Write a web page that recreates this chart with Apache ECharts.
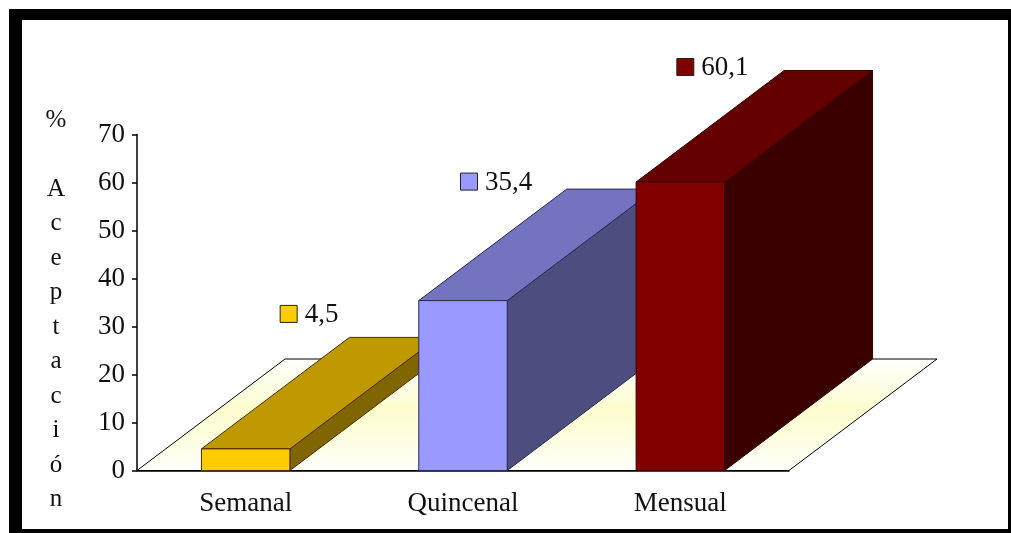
<!DOCTYPE html>
<html>
<head>
<meta charset="utf-8">
<style>html,body{margin:0;padding:0;background:#fff}#chart{width:1011px;height:533px}</style>
<script src="https://cdn.jsdelivr.net/npm/echarts@6/dist/echarts.min.js"></script>
</head>
<body>
<div id="chart"></div>
<script>
// Acceptance percentage by frequency
const categories = ['Semanal', 'Quincenal', 'Mensual'];
const acceptance = [4.5, 35.4, 60.1];
const axisLetters = ['%', '', 'A', 'c', 'e', 'p', 't', 'a', 'c', 'i', 'ó', 'n'];

const faceColors = ['#FFCC00', '#9999FF', '#800000'];
const topColors = ['#BF9900', '#7373BF', '#640000'];
const sideColors = ['#806600', '#4D4D80', '#3A0000'];
const edgeColors = ['#4a2a00', '#2a2a50', '#3a0000'];

const FONT = '"Liberation Serif", "Times New Roman", serif';
const DEPTH_X = 148, DEPTH_Y = 111.5;
const BAR_RATIO = 0.407;
// Value-label placement relative to the top of each bar's front face
const labelShift = [[34, -135], [-3, -119], [-4, -115]];

const floorSeries = {
  type: 'custom',
  coordinateSystem: 'cartesian2d',
  silent: true,
  z: 1,
  data: [[0, 0]],
  renderItem(params, api) {
    const band = api.size([1, 0])[0];
    const first = api.coord([0, 0]);
    const last = api.coord([categories.length - 1, 0]);
    const x0 = first[0] - band / 2, x1 = last[0] + band / 2, y = first[1];
    return {
      type: 'polygon',
      shape: { points: [[x0, y], [x1, y], [x1 + DEPTH_X, y - DEPTH_Y], [x0 + DEPTH_X, y - DEPTH_Y]] },
      style: {
        stroke: '#000',
        lineWidth: 1,
        fill: {
          type: 'linear', x: 0, y: 0, x2: 0, y2: 1,
          colorStops: [
            { offset: 0, color: '#ffffff' },
            { offset: 0.45, color: '#fdfdcf' },
            { offset: 0.72, color: '#fefee0' },
            { offset: 1, color: '#ffffff' }
          ]
        }
      }
    };
  }
};

const barSeries = {
  type: 'custom',
  coordinateSystem: 'cartesian2d',
  silent: true,
  z: 3,
  encode: { x: 0, y: 1 },
  data: acceptance.map((v, i) => [i, v]),
  renderItem(params, api) {
    const i = api.value(0), v = api.value(1);
    const w = api.size([1, 0])[0] * BAR_RATIO;
    const base = api.coord([i, 0]), head = api.coord([i, v]);
    const l = base[0] - w / 2, r = base[0] + w / 2, b = base[1], t = head[1];
    const edge = { stroke: edgeColors[i], lineWidth: 1 };
    const labelX = base[0] + labelShift[i][0], labelY = t + labelShift[i][1];
    return {
      type: 'group',
      children: [
        { type: 'polygon',
          shape: { points: [[r, b], [r + DEPTH_X, b - DEPTH_Y], [r + DEPTH_X, t - DEPTH_Y], [r, t]] },
          style: Object.assign({ fill: sideColors[i] }, edge) },
        { type: 'polygon',
          shape: { points: [[l, t], [r, t], [r + DEPTH_X, t - DEPTH_Y], [l + DEPTH_X, t - DEPTH_Y]] },
          style: Object.assign({ fill: topColors[i] }, edge) },
        { type: 'rect',
          shape: { x: l, y: t, width: w, height: b - t },
          style: Object.assign({ fill: faceColors[i] }, edge) },
        { type: 'rect',
          shape: { x: labelX + 0.5, y: labelY - 8.5, width: 17, height: 17 },
          style: { fill: faceColors[i], stroke: '#222', lineWidth: 1 } },
        { type: 'text',
          style: {
            x: labelX + 25, y: labelY + 1,
            text: String(v).replace('.', ','),
            fill: '#111', font: '27px ' + FONT,
            align: 'left', verticalAlign: 'middle'
          } }
      ]
    };
  }
};

const chart = echarts.init(document.getElementById('chart'), null, { renderer: 'canvas' });
chart.setOption({
  animation: false,
  backgroundColor: '#fff',
  textStyle: { fontFamily: FONT },
  title: {
    text: axisLetters.join('\n'),
    left: 56,
    top: 103,
    padding: 0,
    textAlign: 'center',
    textStyle: { color: '#111', fontFamily: FONT, fontSize: 25, fontWeight: 'normal', lineHeight: 34.5 }
  },
  graphic: [
    { type: 'rect', z: -20, shape: { x: 9, y: 9, width: 1002, height: 524 }, style: { fill: '#000' } },
    { type: 'rect', z: -19, shape: { x: 22, y: 20, width: 986, height: 509 }, style: { fill: '#fff' } }
  ],
  grid: { left: 137, right: 222, top: 134.5, bottom: 62.5, containLabel: false, outerBoundsMode: 'none' },
  xAxis: {
    type: 'category',
    data: categories,
    axisTick: { show: false },
    axisLine: { lineStyle: { color: '#000', width: 1.5 } },
    axisLabel: { color: '#111', fontFamily: FONT, fontSize: 27, margin: 20 },
    splitLine: { show: false }
  },
  yAxis: {
    type: 'value',
    min: 0,
    max: 70,
    interval: 10,
    axisLine: { show: true, lineStyle: { color: '#000', width: 1.5 } },
    axisTick: { show: true, length: 5, lineStyle: { color: '#000', width: 1.5 } },
    axisLabel: { color: '#111', fontFamily: FONT, fontSize: 27, margin: 12, padding: [2, 0, 0, 0] },
    splitLine: { show: false }
  },
  series: [floorSeries, barSeries]
});
</script>
</body>
</html>
